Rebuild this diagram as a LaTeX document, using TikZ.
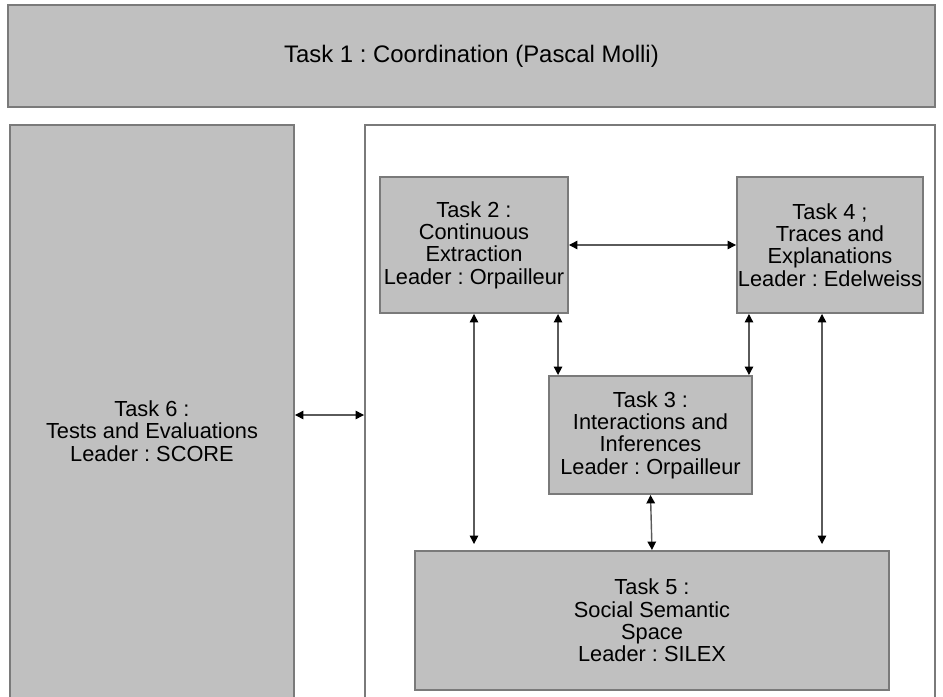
\documentclass[tikz,border=0pt]{standalone}
\usepackage{fontspec}
\setmainfont{Liberation Sans}
\usepackage{xcolor}
\usetikzlibrary{arrows.meta}
\definecolor{boxgray}{HTML}{C0C0C0}
\definecolor{edgegray}{HTML}{7A7A7A}
\definecolor{linkgray}{HTML}{5A5A5A}
\frenchspacing

\begin{document}
\begin{tikzpicture}[
    task/.style={draw=edgegray, line width=1.1pt, fill=boxgray, align=center,
        inner sep=0pt, font=\fontsize{12.4}{12.7}\selectfont},
    link/.style={draw=linkgray, line width=0.8pt,
        {Triangle[length=4.8pt,width=4.8pt,color=black]}-{Triangle[length=4.8pt,width=4.8pt,color=black]}}
  ]
    \useasboundingbox (0,0) rectangle (18.86,-13.92);

    % Coordination
    \node[task, minimum width=18.54cm, minimum height=2.04cm,
          font=\fontsize{13.6}{15}\selectfont] (task1) at (9.43,-1.12)
          {Task 1 : Coordination (Pascal Molli)};

    % Tests and evaluations, and the frame round tasks 2 to 5
    \node[task, minimum width=5.68cm, minimum height=12.24cm] (task6) at (3.04,-8.62)
          {Task 6 :\\Tests and Evaluations\\Leader : SCORE};
    \node[draw=edgegray, line width=1.1pt, fill=white,
          minimum width=11.4cm, minimum height=12.24cm] (frame) at (13.0,-8.62) {};

    % Tasks 2 to 5
    \node[task, minimum width=3.76cm, minimum height=2.72cm] (task2) at (9.48,-4.9)
          {Task 2 :\\Continuous\\Extraction\\Leader : Orpailleur};
    \node[task, minimum width=3.72cm, minimum height=2.72cm] (task4) at (16.6,-4.9)
          {Task 4 ;\\Traces and\\Explanations\\Leader : Edelweiss};
    \node[task, minimum width=4.06cm, minimum height=2.36cm] (task3) at (13.01,-8.7)
          {Task 3 :\\Interactions and\\Inferences\\Leader : Orpailleur};
    \node[task, minimum width=9.48cm, minimum height=2.78cm] (task5) at (13.04,-12.41)
          {Task 5 :\\Social Semantic\\Space\\Leader : SILEX};

    % links
    \draw[link] ([yshift=0.32cm]task6.east) -- ([yshift=0.32cm]frame.west);
    \draw[link] (task2.east) -- (task4.west);
    \draw[link] ([xshift=0.2cm]task3.north west |- task2.south) -- ([xshift=0.2cm]task3.north west);
    \draw[link] ([xshift=-0.08cm]task3.north east |- task4.south) -- ([xshift=-0.08cm]task3.north east);
    \draw[link, shorten >=0.12cm] (task2.south) -- (task2.south |- task5.north);
    \draw[link, shorten >=0.12cm] ([xshift=-0.16cm]task4.south) -- ([xshift=-0.16cm]task4.south |- task5.north);
    \draw[link] (task3.south) -- (task5.north);
\end{tikzpicture}
\end{document}
